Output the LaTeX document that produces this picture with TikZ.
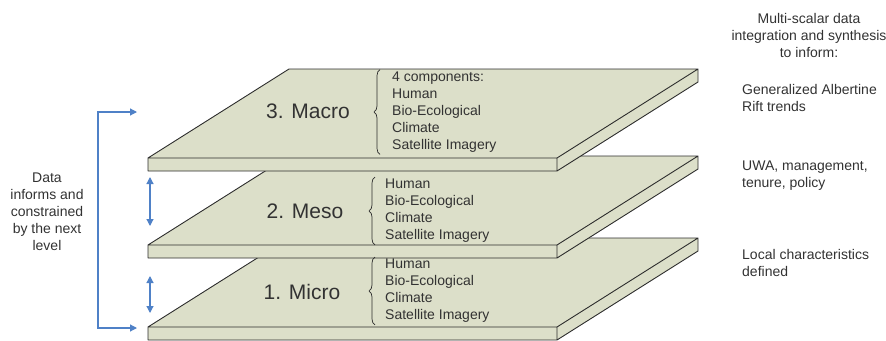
\documentclass[tikz,border=0pt]{standalone}
\usepackage{fontspec}
\setmainfont{Liberation Sans}
\usepackage{xcolor}
\usetikzlibrary{positioning,arrows.meta,decorations.pathreplacing}
\definecolor{slabfill}{RGB}{220,223,201}
\definecolor{slabline}{RGB}{45,45,45}
\definecolor{linkblue}{RGB}{79,129,199}
\definecolor{txt}{RGB}{50,50,50}

\begin{document}
\begin{tikzpicture}[x=1pt,y=-1pt, >={Triangle[length=7pt,width=7pt]},
  slab/.style={fill=slabfill,draw=slabline,line width=0.9pt,line join=round},
  level/.style={font=\fontsize{21}{25}\selectfont,text=txt},
  items/.style={align=left,inner sep=0pt,anchor=west,font=\fontsize{14}{17}\selectfont,text=txt},
  note/.style={align=left,inner sep=0pt,anchor=west,font=\fontsize{14}{17}\selectfont,text=txt},
  flow/.style={draw=linkblue,line width=1.2pt,<->},
  curly/.style={draw=slabline,line width=0.7pt,decorate,decoration={brace,amplitude=6pt}}]
\useasboundingbox (0,0) rectangle (886,340);
% slabs, bottom first
\filldraw[slab] (148,327) -- (289,238) -- (698,238) -- (557,327) -- cycle
  (148,327) rectangle (557,340)
  (557,327) -- (698,238) -- (698,251) -- (557,340) -- cycle;
\filldraw[slab] (148,245) -- (289,156) -- (698,156) -- (557,245) -- cycle
  (148,245) rectangle (557,258)
  (557,245) -- (698,156) -- (698,169) -- (557,258) -- cycle;
\filldraw[slab] (148,158) -- (289,69) -- (698,69) -- (557,158) -- cycle
  (148,158) rectangle (557,171)
  (557,158) -- (698,69) -- (698,82) -- (557,171) -- cycle;
% levels
\node[level] (macro) at (308,111) {3. Macro};
\node[level] (meso) at (305,211) {2. Meso};
\node[level] (micro) at (302,292) {1. Micro};
\node[items] (macrolist) at (392,112) {4 components:\\Human\\Bio-Ecological\\Climate\\Satellite Imagery};
\node[items] (mesolist) at (385,211) {Human\\Bio-Ecological\\Climate\\Satellite Imagery};
\node[items] (microlist) at (385,291) {Human\\Bio-Ecological\\Climate\\Satellite Imagery};
\draw[curly] ([xshift=-12pt,yshift=-2pt]macrolist.south west) -- ([xshift=-12pt,yshift=2pt]macrolist.north west);
\draw[curly] ([xshift=-10pt,yshift=-2pt]mesolist.south west) -- ([xshift=-10pt,yshift=2pt]mesolist.north west);
\draw[curly] ([xshift=-10pt,yshift=-2pt]microlist.south west) -- ([xshift=-10pt,yshift=2pt]microlist.north west);
% left side
\node[align=center,inner sep=0pt,font=\fontsize{14}{17}\selectfont,text=txt] (datanote) at (47,212) {Data\\informs and\\constrained\\by the next\\level};
\coordinate (intop) at (137,112);
\coordinate (brtop) at (98,112);
\coordinate (brbot) at (98,328);
\coordinate (inbot) at (137,328);
\draw[flow] (intop) -- (brtop) -- (brbot) -- (inbot);
\coordinate (mesoup) at (150,177);
\coordinate (mesodn) at (150,226);
\coordinate (microup) at (150,276);
\coordinate (microdn) at (150,313);
\draw[flow] (mesoup) -- (mesodn);
\draw[flow] (microup) -- (microdn);
% right side
\node[align=center,inner sep=0pt,font=\fontsize{14}{17}\selectfont,text=txt] (head) at (809,35) {Multi-scalar data\\integration and synthesis\\to inform:};
\node[note] (macronote) at (742,98) {Generalized Albertine\\Rift trends};
\node[note] (mesonote) at (742,176) {UWA, management,\\tenure, policy};
\node[note] (micronote) at (742,263) {Local characteristics\\defined};
\end{tikzpicture}
\end{document}
